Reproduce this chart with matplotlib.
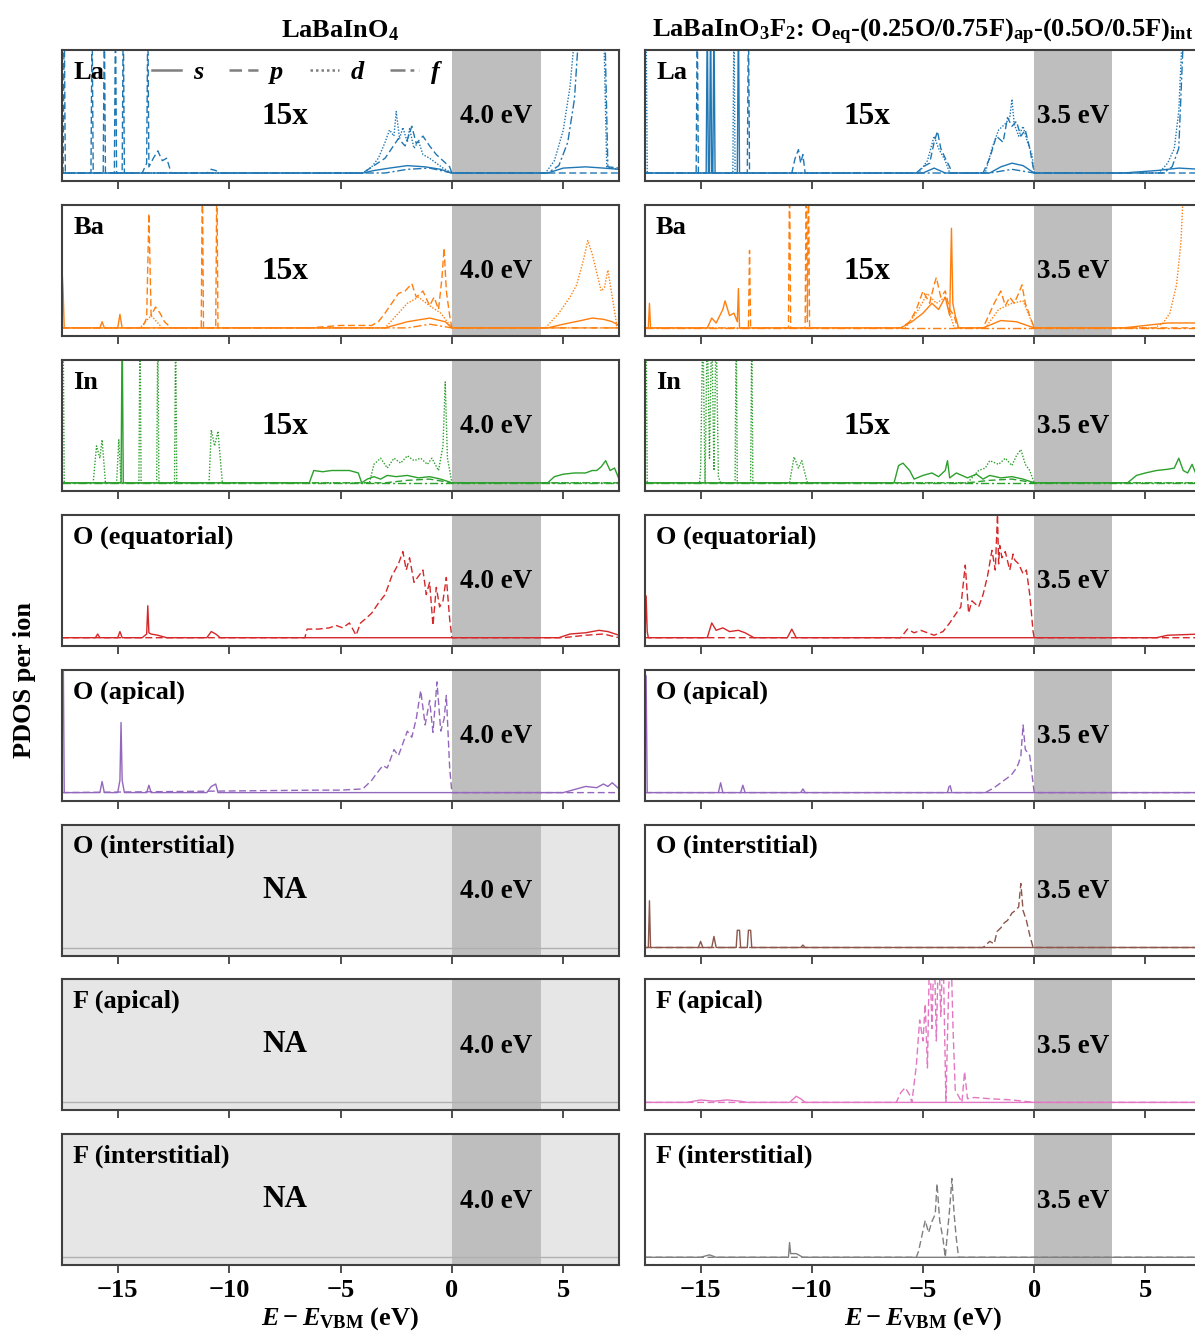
"""PDOS per ion for LaBaInO4 and LaBaInO3F2, s/p/d/f resolved."""
import matplotlib
matplotlib.use("Agg")
import matplotlib.pyplot as plt
from matplotlib.lines import Line2D
from matplotlib.transforms import blended_transform_factory

plt.rcParams["font.family"] = ["Liberation Serif", "DejaVu Serif"]
plt.rcParams["font.weight"] = "bold"
plt.rcParams["axes.titleweight"] = "bold"
plt.rcParams["axes.labelweight"] = "bold"
plt.rcParams["font.size"] = 19
plt.rcParams["mathtext.fontset"] = "custom"
plt.rcParams["mathtext.rm"] = "Liberation Serif:bold"
plt.rcParams["mathtext.bf"] = "Liberation Serif:bold"
plt.rcParams["mathtext.it"] = "Liberation Serif:italic:bold"

# ---- data (energies in eV relative to VBM, PDOS in panel units; 1.3 = off scale)
species = ["La", "Ba", "In", "O (equatorial)", "O (apical)", "O (interstitial)",
           "F (apical)", "F (interstitial)"]
colors = ["#1f77b4", "#ff7f0e", "#2ca02c", "#d62728", "#9467bd", "#8c564b",
          "#e377c2", "#7f7f7f"]
scaled = [True, True, True, False, False, False, False, False]
gaps = [4.0, 3.5]
titles = [r"LaBaInO$_4$",
          r"LaBaInO$_3$F$_2$: O$_{\rm eq}$-(0.25O/0.75F)$_{\rm ap}$-(0.5O/0.5F)$_{\rm int}$"]
orbitals = ["s", "p", "d", "f"]
styles = {"s": "-", "p": (0, (5, 2.5)), "d": (0, (1, 1.2)), "f": (0, (6, 2, 1.5, 2))}

la_o4 = {
    "s": ([-17.5, -4.0, -3.5, -2.8, -2.0, -1.2, -0.5, -0.2, 0.0, 4.3, 5.0, 6.0, 6.8, 7.5],
          [0, 0, 0.02, 0.04, 0.06, 0.05, 0.03, 0.01, 0, 0, 0.04, 0.05, 0.04, 0.03]),
    "p": ([-17.5, -17.45, -17.4, -17.35, -16.2, -16.15, -16.1, -15.65, -15.6, -15.55,
           -15.15, -15.1, -15.05, -14.8, -14.75, -14.7, -13.9, -13.7, -13.65, -13.6,
           -13.4, -13.2, -13.0, -12.8, -12.6, -11.0, -10.8, -10.6, -10.4, -4.0, -3.5,
           -3.0, -2.7, -2.4, -2.1, -1.8, -1.6, -1.3, -1.0, -0.7, -0.4, -0.1, 0.0, 7.5],
          [0, 0, 1.3, 0, 0, 1.3, 0, 0, 1.3, 0, 0, 1.3, 0, 0, 1.3, 0, 0, 0.08, 1.3, 0.05,
           0.12, 0.18, 0.1, 0.12, 0, 0, 0.03, 0.02, 0, 0, 0.06, 0.12, 0.2, 0.28, 0.22,
           0.38, 0.24, 0.3, 0.22, 0.15, 0.1, 0.05, 0, 0]),
    "d": ([-17.5, -4.0, -3.6, -3.3, -3.0, -2.8, -2.6, -2.5, -2.35, -2.2, -2.0, -1.9,
           -1.7, -1.5, -1.3, -1.0, -0.7, -0.4, 0.0, 4.2, 4.6, 5.0, 5.3, 5.6, 6.8, 6.95,
           7.5],
          [0, 0, 0.05, 0.12, 0.25, 0.35, 0.3, 0.5, 0.28, 0.37, 0.25, 0.36, 0.2, 0.26,
           0.15, 0.12, 0.08, 0.04, 0, 0, 0.1, 0.35, 0.7, 1.3, 1.3, 0.05, 0.03]),
    "f": ([-17.5, -3.0, -2.0, -1.0, 0.0, 4.3, 4.8, 5.2, 5.5, 5.75, 6.85, 7.0, 7.5],
          [0, 0, 0.03, 0.04, 0, 0, 0.06, 0.25, 0.6, 1.3, 1.3, 0.05, 0.04]),
}
la_o3f2 = {
    "s": ([-17.5, -14.75, -14.7, -14.65, -14.6, -14.55, -14.5, -14.45, -14.4, -14.35,
           -13.35, -13.3, -13.25, -5.0, -4.5, -4.0, -2.0, -1.5, -1.0, -0.5, 0.0, 4.0,
           5.5, 6.5, 7.5],
          [0, 0, 1.3, 0, 0, 1.3, 0, 0, 1.3, 0, 0, 1.3, 0, 0, 0.04, 0, 0, 0.05, 0.08,
           0.06, 0, 0, 0.02, 0.04, 0.03]),
    "p": ([-17.5, -15.2, -15.15, -15.1, -12.9, -12.85, -12.8, -10.9, -10.75, -10.6,
           -10.5, -10.4, -10.3, -5.3, -5.0, -4.7, -4.5, -4.35, -4.2, -4.0, -3.8, -3.7,
           -2.3, -2.0, -1.7, -1.4, -1.2, -1.0, -0.8, -0.6, -0.4, -0.2, 0.0, 7.5],
          [0, 0, 1.3, 0, 0, 1.3, 0, 0, 0.12, 0.19, 0.08, 0.15, 0, 0, 0.05, 0.08, 0.25,
           0.34, 0.2, 0.12, 0.05, 0, 0, 0.12, 0.3, 0.25, 0.45, 0.38, 0.42, 0.3, 0.35,
           0.2, 0, 0]),
    "d": ([-17.5, -17.45, -17.4, -13.55, -13.5, -13.45, -5.2, -4.8, -4.5, -4.3, -4.0,
           -3.8, -2.2, -1.9, -1.6, -1.3, -1.1, -1.0, -0.9, -0.7, -0.5, -0.3, -0.1, 0.0,
           5.6, 6.0, 6.3, 6.5, 6.7, 7.5],
          [1.3, 1.3, 0, 0, 1.3, 0, 0, 0.1, 0.3, 0.2, 0.1, 0, 0, 0.2, 0.35, 0.4, 0.45,
           0.6, 0.4, 0.3, 0.38, 0.25, 0.15, 0, 0, 0.08, 0.2, 0.5, 1.3, 1.3]),
    "f": ([-17.5, -2.0, -1.0, 0.0, 5.8, 6.2, 6.5, 6.75, 7.5],
          [0, 0, 0.03, 0, 0, 0.05, 0.2, 1.3, 1.3]),
}
ba_o4 = {
    "s": ([-17.5, -17.45, -17.4, -15.8, -15.7, -15.6, -15.0, -14.9, -14.8, -3.0, -2.0,
           -1.0, -0.3, 0.0, 4.3, 5.0, 5.8, 6.3, 6.8, 7.2, 7.5],
          [0.48, 0.3, 0, 0, 0.05, 0, 0, 0.11, 0, 0, 0.05, 0.08, 0.05, 0, 0, 0.03, 0.06,
           0.08, 0.07, 0.05, 0.02]),
    "p": ([-17.5, -13.9, -13.7, -13.6, -13.5, -13.3, -13.1, -12.9, -12.6, -11.25,
           -11.2, -11.15, -10.6, -10.55, -10.5, -6.4, -5.0, -3.6, -3.3, -3.0, -2.7,
           -2.4, -2.1, -1.8, -1.6, -1.3, -1.0, -0.8, -0.6, -0.45, -0.35, -0.25, -0.1,
           0.0, 7.5],
          [0, 0, 0.08, 0.93, 0.1, 0.17, 0.12, 0.05, 0, 0, 1.3, 0, 0, 1.3, 0, 0, 0.02,
           0.02, 0.05, 0.12, 0.2, 0.28, 0.3, 0.36, 0.25, 0.3, 0.18, 0.25, 0.15, 0.4,
           0.65, 0.3, 0.1, 0, 0]),
    "d": ([-17.5, -14.0, -13.5, -13.0, -3.0, -2.5, -2.0, -1.5, -1.0, -0.5, 0.0, 4.2,
           4.8, 5.3, 5.6, 5.9, 6.1, 6.3, 6.5, 6.7, 6.85, 7.0, 7.2, 7.4, 7.5],
          [0, 0, 0.1, 0, 0, 0.1, 0.2, 0.25, 0.18, 0.12, 0, 0, 0.12, 0.25, 0.35, 0.55,
           0.71, 0.6, 0.45, 0.3, 0.33, 0.47, 0.25, 0.02, 0]),
    "f": ([-17.5, -2.0, -1.0, 0.0, 7.5], [0, 0, 0.03, 0, 0]),
}
ba_o3f2 = {
    "s": ([-17.5, -17.35, -17.3, -17.25, -14.7, -14.5, -14.3, -14.0, -13.9, -13.7,
           -13.5, -13.35, -13.3, -13.25, -6.0, -5.5, -5.0, -4.6, -4.3, -4.0, -3.8,
           -3.72, -3.66, -3.55, -3.4, -2.3, -1.5, -0.8, 0.0, 4.0, 5.0, 6.0, 7.5],
          [0, 0, 0.2, 0, 0, 0.08, 0.04, 0.15, 0.22, 0.1, 0.12, 0.05, 0.32, 0, 0, 0.05,
           0.12, 0.2, 0.15, 0.25, 0.1, 0.81, 0.2, 0.1, 0, 0, 0.06, 0.05, 0, 0, 0.02,
           0.04, 0.04]),
    "p": ([-17.5, -12.85, -12.8, -12.75, -11.05, -11.0, -10.95, -10.3, -10.25, -10.2,
           -10.15, -10.1, -6.0, -5.6, -5.3, -5.0, -4.7, -4.5, -4.4, -4.2, -4.0, -3.8,
           -3.6, -3.45, -2.3, -2.0, -1.8, -1.5, -1.3, -1.1, -0.9, -0.7, -0.55, -0.4,
           -0.2, 0.0, 7.5],
          [0, 0, 0.63, 0, 0, 1.3, 0, 0, 1.3, 0.05, 1.3, 0, 0, 0.05, 0.15, 0.3, 0.2,
           0.35, 0.41, 0.25, 0.3, 0.15, 0.1, 0, 0, 0.12, 0.2, 0.3, 0.18, 0.25, 0.2,
           0.28, 0.35, 0.2, 0.1, 0, 0]),
    "d": ([-17.5, -5.8, -5.2, -4.8, -4.4, -4.0, -3.6, -2.2, -1.6, -1.0, -0.5, 0.0,
           5.4, 5.8, 6.1, 6.4, 6.6, 6.75, 7.5],
          [0, 0, 0.15, 0.28, 0.2, 0.25, 0, 0, 0.15, 0.2, 0.22, 0, 0, 0.04, 0.12, 0.35,
           0.7, 1.3, 1.3]),
    "f": ([-17.5, 7.5], [0, 0]),
}
in_o4 = {
    "s": ([-17.5, -14.85, -14.8, -14.75, -6.4, -6.2, -5.8, -5.4, -5.0, -4.6, -4.2,
           -4.05, -3.8, -3.5, -3.2, -2.9, -2.5, -2.0, -1.5, -1.0, -0.5, 0.0, 4.3, 4.6,
           5.0, 5.5, 6.0, 6.3, 6.5, 6.7, 6.9, 7.1, 7.3, 7.5],
          [0, 0, 1.3, 0, 0, 0.1, 0.09, 0.1, 0.1, 0.1, 0.08, 0, 0.03, 0.05, 0.03, 0.06,
           0.05, 0.06, 0.04, 0.05, 0.03, 0, 0, 0.05, 0.07, 0.08, 0.08, 0.1, 0.1, 0.13,
           0.18, 0.1, 0.12, 0.03]),
    "p": ([-17.5, -3.0, -2.0, -1.0, 0.0, 7.5], [0, 0, 0.02, 0.03, 0, 0]),
    "d": ([-17.5, -17.45, -17.4, -16.1, -15.95, -15.8, -15.7, -15.55, -15.05, -14.95,
           -14.85, -14.05, -14.0, -13.95, -13.25, -13.2, -13.15, -12.45, -12.4, -12.35,
           -10.9, -10.8, -10.65, -10.5, -10.35, -10.3, -3.7, -3.5, -3.2, -2.9, -2.6,
           -2.3, -2.0, -1.7, -1.4, -1.1, -0.9, -0.6, -0.4, -0.3, -0.2, 0.0, 7.5],
          [1.3, 1.3, 0, 0, 0.3, 0.2, 0.35, 0, 0, 0.35, 0, 0, 1.3, 0, 0, 1.3, 0, 0, 1.3,
           0, 0, 0.43, 0.3, 0.42, 0.1, 0, 0, 0.15, 0.2, 0.12, 0.2, 0.16, 0.22, 0.18,
           0.2, 0.15, 0.2, 0.1, 0.3, 0.82, 0.2, 0, 0]),
    "f": ([-17.5, 7.5], [0, 0]),
}
in_o3f2 = {
    "s": ([-17.5, -6.3, -6.1, -5.9, -5.6, -5.4, -5.0, -4.6, -4.3, -4.0, -3.9, -3.8,
           -3.5, -3.0, -2.6, -2.3, -2.0, -1.5, -1.0, -0.5, 0.0, 4.2, 4.6, 5.0, 5.5, 6.0,
           6.3, 6.5, 6.7, 6.9, 7.1, 7.3, 7.5],
          [0, 0, 0.14, 0.16, 0.1, 0.03, 0.06, 0.08, 0.05, 0.1, 0.18, 0.04, 0.08, 0.04,
           0.07, 0.03, 0.06, 0.04, 0.05, 0.03, 0, 0, 0.06, 0.08, 0.1, 0.11, 0.12, 0.2,
           0.1, 0.08, 0.15, 0.06, 0.1]),
    "p": ([-17.5, -3.0, -2.0, -1.0, 0.0, 7.5], [0, 0, 0.02, 0.03, 0, 0]),
    "d": ([-17.5, -17.45, -17.4, -15.05, -15.0, -14.9, -14.8, -14.7, -14.6, -14.5,
           -14.4, -14.3, -14.2, -14.1, -13.45, -13.4, -13.35, -12.75, -12.7, -12.65,
           -11.0, -10.8, -10.6, -10.45, -10.2, -3.0, -2.5, -2.2, -2.0, -1.6, -1.3, -1.0,
           -0.8, -0.6, -0.4, -0.2, 0.0, 7.5],
          [1.3, 1.3, 0, 0, 0.1, 1.3, 0, 1.3, 0.2, 1.3, 0.1, 1.3, 0.05, 0, 0, 1.3, 0, 0,
           1.3, 0, 0, 0.21, 0.12, 0.18, 0, 0, 0.1, 0.12, 0.18, 0.15, 0.2, 0.14, 0.22,
           0.27, 0.15, 0.1, 0, 0]),
    "f": ([-17.5, 7.5], [0, 0]),
}
oeq_o4 = {
    "s": ([-17.5, -16.0, -15.9, -15.8, -15.0, -14.9, -14.8, -13.9, -13.7, -13.65,
           -13.6, -13.5, -13.2, -12.8, -11.0, -10.8, -10.6, -10.4, 4.8, 5.3, 6.0, 6.6,
           7.0, 7.5],
          [0, 0, 0.03, 0, 0, 0.05, 0, 0, 0.03, 0.26, 0.04, 0.03, 0.02, 0, 0, 0.05, 0.03,
           0, 0, 0.03, 0.04, 0.06, 0.05, 0.02]),
    "p": ([-17.5, -6.6, -6.5, -6.0, -5.5, -5.2, -4.9, -4.6, -4.3, -4.1, -3.9, -3.6,
           -3.3, -3.0, -2.7, -2.4, -2.2, -2.05, -1.9, -1.7, -1.5, -1.3, -1.15, -1.0,
           -0.85, -0.7, -0.55, -0.4, -0.25, -0.1, 0.0, 5.0, 6.0, 6.8, 7.5],
          [0, 0, 0.07, 0.07, 0.08, 0.1, 0.08, 0.12, 0.02, 0.12, 0.15, 0.2, 0.28, 0.35,
           0.5, 0.6, 0.7, 0.55, 0.65, 0.45, 0.5, 0.55, 0.35, 0.45, 0.1, 0.41, 0.25, 0.3,
           0.49, 0.15, 0, 0, 0.02, 0.03, 0]),
}
oeq_o3f2 = {
    "s": ([-17.5, -17.45, -17.4, -17.35, -14.7, -14.5, -14.3, -14.0, -13.7, -13.3,
           -13.0, -12.6, -11.1, -10.9, -10.7, 5.5, 6.0, 7.5],
          [0, 0.34, 0.05, 0, 0, 0.12, 0.06, 0.08, 0.05, 0.06, 0.04, 0, 0, 0.07, 0,
           0, 0.02, 0.03]),
    "p": ([-17.5, -6.0, -5.7, -5.4, -5.1, -4.5, -4.1, -3.8, -3.5, -3.3, -3.1, -2.95,
           -2.8, -2.5, -2.3, -2.1, -1.9, -1.75, -1.65, -1.6, -1.55, -1.45, -1.3, -1.1,
           -0.95, -0.87, -0.7, -0.5, -0.35, -0.2, -0.05, 0.0, 7.5],
          [0, 0, 0.07, 0.04, 0.06, 0.02, 0.05, 0.12, 0.2, 0.25, 0.59, 0.2, 0.3, 0.25,
           0.35, 0.5, 0.71, 0.55, 1.0, 0.6, 0.75, 0.65, 0.7, 0.55, 0.68, 0.63, 0.6,
           0.52, 0.55, 0.35, 0.05, 0, 0]),
}
oap_o4 = {
    "s": ([-17.5, -17.45, -17.4, -15.8, -15.7, -15.6, -15.0, -14.9, -14.85, -14.8,
           -14.7, -13.7, -13.6, -13.5, -11.0, -10.8, -10.6, -10.5, 5.0, 5.6, 6.0, 6.5,
           6.8, 7.0, 7.2, 7.5],
          [1.3, 1.3, 0, 0, 0.09, 0, 0, 0.1, 0.57, 0.1, 0, 0, 0.06, 0, 0, 0.05, 0.07, 0,
           0, 0.03, 0.05, 0.04, 0.07, 0.05, 0.08, 0.03]),
    "p": ([-17.5, -6.1, -5.0, -4.0, -3.6, -3.4, -3.1, -2.9, -2.6, -2.4, -2.2, -2.0,
           -1.8, -1.6, -1.4, -1.2, -1.0, -0.85, -0.67, -0.5, -0.35, -0.25, -0.1, 0.0,
           7.5],
          [0, 0.02, 0.02, 0.03, 0.1, 0.15, 0.22, 0.2, 0.35, 0.3, 0.4, 0.5, 0.45, 0.6,
           0.83, 0.55, 0.75, 0.49, 0.9, 0.5, 0.6, 0.79, 0.2, 0, 0]),
}
oap_o3f2 = {
    "s": ([-17.5, -17.45, -17.4, -14.2, -14.1, -14.0, -13.2, -13.1, -13.0, -10.5,
           -10.4, -10.3, 7.5],
          [0.95, 0.95, 0, 0, 0.08, 0, 0, 0.06, 0, 0, 0.03, 0, 0]),
    "p": ([-17.5, -3.9, -3.8, -3.7, -2.2, -1.8, -1.5, -1.2, -1.0, -0.8, -0.7, -0.6,
           -0.5, -0.4, -0.2, 0.0, 7.5],
          [0, 0, 0.07, 0, 0, 0.04, 0.08, 0.12, 0.15, 0.2, 0.24, 0.3, 0.55, 0.35, 0.3,
           0, 0]),
}
oint_o3f2 = {
    "s": ([-17.5, -17.35, -17.3, -17.25, -15.1, -15.0, -14.9, -14.5, -14.4, -14.3,
           -13.4, -13.35, -13.25, -13.2, -12.9, -12.85, -12.75, -12.7, -10.5, -10.4,
           -10.3, 7.5],
          [0, 0, 0.38, 0, 0, 0.05, 0, 0, 0.09, 0, 0, 0.14, 0.14, 0, 0, 0.14, 0.14, 0,
           0, 0.02, 0, 0]),
    "p": ([-17.5, -2.3, -2.0, -1.8, -1.67, -1.5, -1.35, -1.2, -1.0, -0.85, -0.7, -0.6,
           -0.5, -0.35, -0.2, -0.05, 7.5],
          [0, 0, 0.05, 0.03, 0.13, 0.16, 0.2, 0.22, 0.28, 0.3, 0.33, 0.52, 0.3, 0.22,
           0.1, 0, 0]),
}
fap_o3f2 = {
    "s": ([-17.5, -15.6, -15.0, -14.4, -13.8, -13.2, -12.9, -11.0, -10.7, -10.5,
           -10.3, 7.5],
          [0, 0, 0.02, 0.01, 0.02, 0.01, 0, 0, 0.05, 0.03, 0, 0]),
    "p": ([-17.5, -6.2, -6.0, -5.8, -5.6, -5.5, -5.3, -5.15, -5.0, -4.9, -4.8, -4.7,
           -4.6, -4.5, -4.4, -4.3, -4.2, -4.1, -3.97, -3.85, -3.75, -3.65, -3.55, -3.4,
           -3.25, -3.13, -3.0, -2.7, -2.0, -1.0, 0.0, 7.5],
          [0, 0, 0.08, 0.12, 0.06, 0.0, 0.3, 0.67, 0.5, 0.8, 0.28, 1.3, 0.6, 1.3, 0.5,
           1.3, 0.7, 1.3, 0.0, 0.9, 1.3, 0.6, 0.1, 0.05, 0.0, 0.25, 0.03, 0.04, 0.03,
           0.02, 0, 0]),
}
fint_o3f2 = {
    "s": ([-17.5, -15.0, -14.6, -14.3, -11.05, -11.0, -10.95, -10.7, -10.4, 7.5],
          [0, 0, 0.02, 0, 0, 0.12, 0.03, 0.03, 0, 0]),
    "p": ([-17.5, -5.3, -5.2, -4.9, -4.75, -4.6, -4.45, -4.37, -4.25, -4.1, -4.0, -3.9,
           -3.8, -3.7, -3.6, -3.5, -3.4, 7.5],
          [0, 0, 0.05, 0.3, 0.2, 0.29, 0.35, 0.6, 0.3, 0.15, 0.0, 0.2, 0.4, 0.64, 0.35,
           0.15, 0, 0]),
}

left_data = [la_o4, ba_o4, in_o4, oeq_o4, oap_o4, None, None, None]
right_data = [la_o3f2, ba_o3f2, in_o3f2, oeq_o3f2, oap_o3f2, oint_o3f2, fap_o3f2, fint_o3f2]

# ---- figure
W, H = 1195, 1340
fig = plt.figure(figsize=(W / 100, H / 100), dpi=100)
col_x = [(62, 557), (645, 556)]
row_top, row_pitch, row_h = 50, 154.9, 131

for col, (data_col, gap) in enumerate(zip([left_data, right_data], gaps)):
    x0, w = col_x[col]
    for row in range(len(species)):
        top = row_top + row * row_pitch
        ax = fig.add_axes([x0 / W, 1 - (top + row_h) / H, w / W, row_h / H])
        panel = data_col[row]
        ax.set_xlim(-17.5, 7.5)
        ax.set_ylim(-0.065, 1.0)
        if panel is None:
            ax.set_facecolor("#e6e6e6")
            ax.axhline(0, color="#b0b0b0", lw=1.0, zorder=1)
        ax.axvspan(0, gap, color="#bebebe", lw=0, zorder=0)
        if panel is not None:
            for orb in orbitals:
                if orb in panel:
                    e, v = panel[orb]
                    ax.plot(e, v, color=colors[row], lw=1.0, ls=styles[orb], zorder=2)
        trans = blended_transform_factory(ax.transData, ax.transAxes)
        ax.text(gap / 2, 0.49, f"{gap:.1f} eV", transform=trans, ha="center",
                va="center", fontsize=19.5, zorder=3)
        if panel is None:
            ax.text(-7.5, 0.5, "NA", transform=trans, ha="center", va="center",
                    fontsize=22.5)
        elif scaled[row]:
            ax.text(-7.5, 0.49, "15x", transform=trans, ha="center", va="center",
                    fontsize=22.5)
        ax.text(0.02, 0.83, species[row], transform=ax.transAxes, ha="left",
                va="center", fontsize=19)
        ax.set_yticks([])
        ax.set_xticks([-15, -10, -5, 0, 5])
        ax.tick_params(axis="x", direction="out", length=6, width=1.3,
                       color="#404040", labelsize=19, pad=4)
        for sp in ax.spines.values():
            sp.set_color("#404040")
            sp.set_linewidth(1.5)
        if row < len(species) - 1:
            ax.tick_params(axis="x", labelbottom=False)
        else:
            ax.set_xlabel(r"$E-E_{\rm VBM}$ (eV)", fontsize=19, labelpad=2)
        if row == 0:
            ax.set_title(titles[col], fontsize=19, pad=9)
            if col == 0:
                handles = [Line2D([], [], color="#7f7f7f", lw=1.8, ls=styles[o])
                           for o in orbitals]
                ax.legend(handles, orbitals, ncol=4, frameon=False, loc="center",
                          bbox_to_anchor=(0.42, 0.83), handlelength=1.1,
                          handletextpad=0.45, columnspacing=1.0,
                          prop={"family": "Liberation Serif", "style": "italic",
                                "weight": "bold", "size": 19})

fig.text(25 / W, 1 - 680 / H, "PDOS per ion", rotation=90, ha="center",
         va="center", fontsize=19)

fig.savefig("out.png", dpi=100)
